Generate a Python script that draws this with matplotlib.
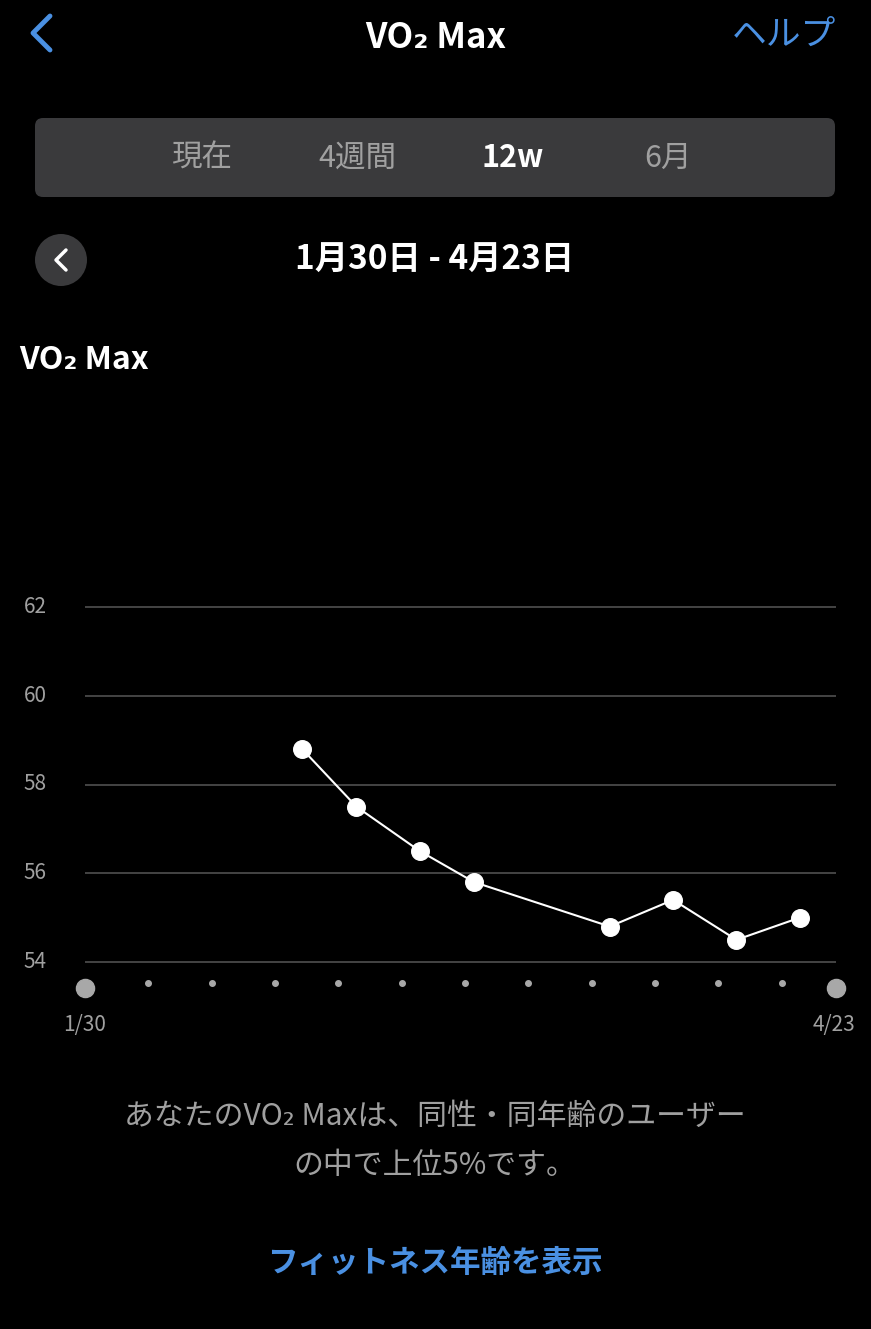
import matplotlib
matplotlib.use("Agg")
import matplotlib.pyplot as plt
from matplotlib.patches import FancyBboxPatch, Circle

plt.rcParams['font.family'] = ['Noto Sans CJK JP', 'DejaVu Sans']

# data: day offset from 1/30, VO2 max values
days = [24, 30, 37, 43, 58, 65, 72, 79]
vo2 = [58.8, 57.5, 56.5, 55.8, 54.8, 55.4, 54.5, 55.0]
yticks = [54, 56, 58, 60, 62]
week_days = list(range(7, 83, 7))
start_label, end_label = "1/30", "4/23"
tabs = ["現在", "4週間", "12w", "6月"]

W, H = 871, 1329
fig = plt.figure(figsize=(W/100, H/100), dpi=100, facecolor='black')
ui = fig.add_axes([0, 0, 1, 1]); ui.set_xlim(0, W); ui.set_ylim(H, 0); ui.axis('off')
ui.set_facecolor('black')

blue = '#4a90e2'
ui.plot([50, 33, 50], [16, 33, 50], color=blue, lw=3.5, solid_capstyle='round', solid_joinstyle='round')
ui.text(436, 37, "VO₂ Max", color='white', fontsize=25, weight='bold', ha='center', va='center')
ui.text(784, 35, "ヘルプ", color=blue, fontsize=25, ha='center', va='center')

ui.add_patch(FancyBboxPatch((35, 118), 800, 79, boxstyle="round,pad=0,rounding_size=8",
                            fc='#3a3a3c', ec='none'))
for x, t in zip([202, 357, 513, 668], tabs):
    sel = t == "12w"
    ui.text(x, 158, t, color='white' if sel else '#a0a0a0', fontsize=22,
            weight='bold' if sel else 'normal', ha='center', va='center')

ui.add_patch(Circle((61, 260), 26, fc='#3a3a3c', ec='none'))
ui.plot([66, 56, 66], [250, 260, 270], color='white', lw=2.5, solid_capstyle='round', solid_joinstyle='round')
ui.text(435, 260, "1月30日 - 4月23日", color='white', fontsize=24, weight='bold', ha='center', va='center')
ui.text(19, 360, "VO₂ Max", color='white', fontsize=23, weight='bold', ha='left', va='center')

ui.text(435, 1116, "あなたのVO₂ Maxは、同性・同年齢のユーザー", color='#a0a0a0', fontsize=21.5, ha='center', va='center')
ui.text(435, 1165, "の中で上位5%です。", color='#a0a0a0', fontsize=21.5, ha='center', va='center')
ui.text(435, 1263, "フィットネス年齢を表示", color=blue, fontsize=22, weight='bold', ha='center', va='center')

# chart axes in pixel placement
x0, x1, ytop, ybot = 85, 836, 560, 1000
ax = fig.add_axes([x0/W, 1-ybot/H, (x1-x0)/W, (ybot-ytop)/H])
ax.set_facecolor('black')
ppu = (962-607)/8
ax.set_xlim(0, 83)
ax.set_ylim(54-(ybot-962)/ppu, 62+(607-ytop)/ppu)
ax.axis('off')
for v in yticks:
    ax.axhline(v, color='#4a4a4a', lw=1.3)
    ui.text(35, 962-(v-54)*ppu, str(v), color='#a0a0a0', fontsize=15, ha='center', va='center')
ydot = 54-(988-962)/ppu
ydot_small = 54-(983-962)/ppu
ax.scatter([0, 83], [ydot, ydot], s=170, color='#a8a8a8', zorder=3, clip_on=False)
ax.scatter(week_days, [ydot_small]*len(week_days), s=16, color='#a8a8a8', zorder=3, clip_on=False)
ax.plot(days, vo2, color='white', lw=1.5, zorder=4)
ax.scatter(days, vo2, s=160, color='white', zorder=5)
ui.text(85, 1025, start_label, color='#a0a0a0', fontsize=15, ha='center', va='center')
ui.text(834, 1025, end_label, color='#a0a0a0', fontsize=15, ha='center', va='center')

fig.savefig("out.png", dpi=100, facecolor='black')
